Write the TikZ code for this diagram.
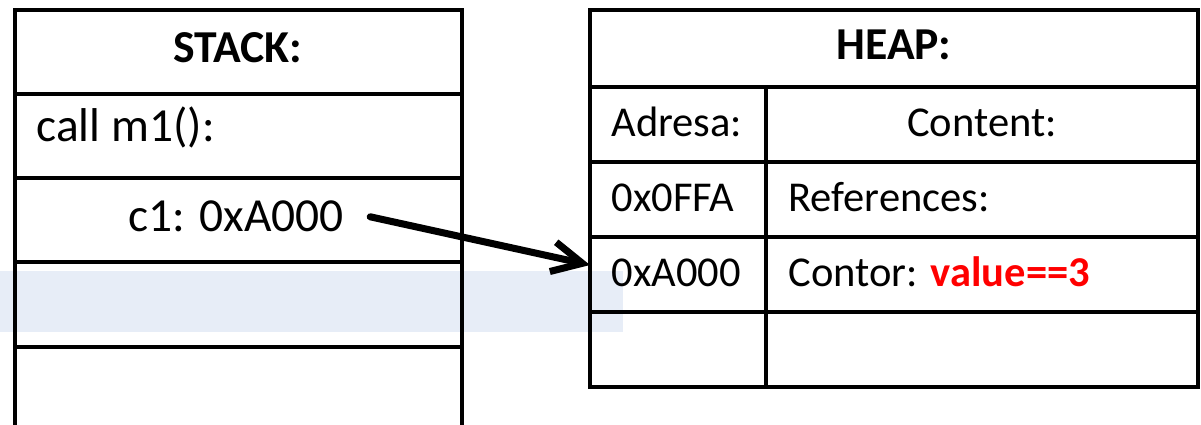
\documentclass[tikz,border=0pt]{standalone}
\usepackage{fontspec}
\setmainfont{Carlito}
\usepackage{tikz}
\usepackage{xcolor}
\usetikzlibrary{arrows.meta,positioning}
\definecolor{bandblue}{HTML}{E7EDF7}

\tikzset{
  cell/.style={anchor=base west,inner sep=0pt,font=\fontsize{27}{32}\selectfont},
  heapcell/.style={cell,font=\fontsize{24.2}{29}\selectfont},
  title/.style={anchor=base,inner sep=0pt,font=\fontsize{26}{31}\selectfont\bfseries},
  ptr/.style={line width=4pt,line cap=round,line join=round,-{Straight Barb[length=0.6cm,width=0.6cm]}}
}

\begin{document}
\begin{tikzpicture}[x=0.02cm,y=-0.02cm,line width=1.8pt]
\useasboundingbox (0,0) rectangle (1201,425);
\fill[bandblue] (0,271) rectangle (623,332);
% stack frame, open at the bottom
\draw (15,425) -- (15,10) -- (462,10) -- (462,425) (15,94) -- (462,94) (15,178) -- (462,178) (15,262) -- (462,262) (15,347) -- (462,347);
% heap table
\draw (590,10) rectangle (1198,387) (590,87) -- (1198,87) (590,162) -- (1198,162) (590,237) -- (1198,237) (590,312) -- (1198,312) (766,87) -- (766,387);

\node[title] (stackhead) at (238,63) {STACK:};
\node[cell] (callm1) at (35,142) {call m1():};
\node[cell,anchor=base] (c1) at (236,232) {c1: 0xA000};

\node[title] (heaphead) at (894,60) {HEAP:};
\node[heapcell] (adresa) at (610,137) {Adresa:};
\node[heapcell,anchor=base] (content) at (982,137) {Content:};
\node[heapcell] (adr1) at (610,212) {0x0FFA};
\node[heapcell] (ref1) at (787,212) {References:};
\node[heapcell] (adr2) at (610,287) {0xA000};
\node[heapcell] (contor) at (787,287) {Contor: {\bfseries\color{red}value==3}};

% reference from c1 into the heap
\coordinate (tip) at (590,265);
\draw[ptr] ([xshift=0.5cm]c1.east) -- (tip);
\end{tikzpicture}
\end{document}
